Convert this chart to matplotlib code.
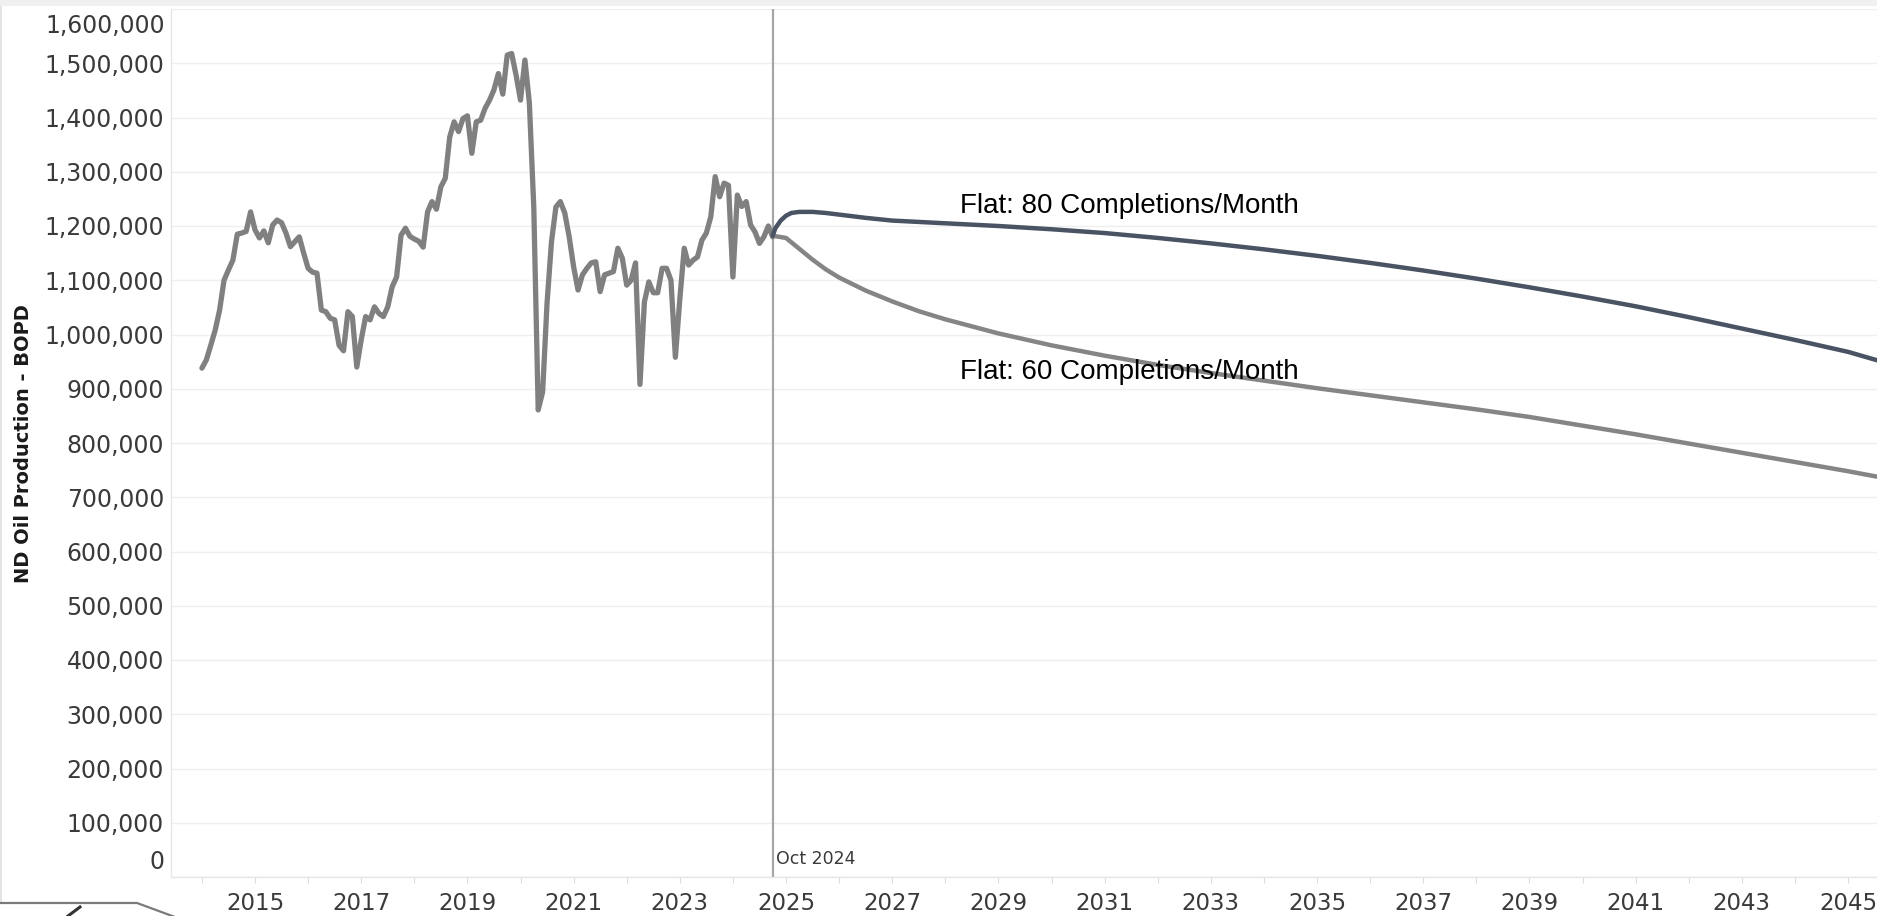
import matplotlib

matplotlib.use("Agg")
import matplotlib.pyplot as plt
from matplotlib.lines import Line2D
from matplotlib.patches import Rectangle

# monthly ND oil production (BOPD), Jan 2014 .. Oct 2024
hist_start_year = 2014
hist_bopd = [
    # 2014
    938_000, 953_000, 980_000, 1_008_000, 1_045_000, 1_100_000,
    1_119_000, 1_137_000, 1_185_000, 1_187_000, 1_190_000, 1_226_000,
    # 2015
    1_193_000, 1_178_000, 1_191_000, 1_169_000, 1_202_000, 1_211_000,
    1_206_000, 1_187_000, 1_162_000, 1_171_000, 1_180_000, 1_150_000,
    # 2016
    1_122_000, 1_115_000, 1_113_000, 1_045_000, 1_042_000, 1_030_000,
    1_027_000, 980_000, 970_000, 1_042_000, 1_033_000, 940_000,
    # 2017
    990_000, 1_033_000, 1_027_000, 1_051_000, 1_039_000, 1_033_000,
    1_051_000, 1_088_000, 1_106_000, 1_183_000, 1_196_000, 1_181_000,
    # 2018
    1_176_000, 1_172_000, 1_161_000, 1_226_000, 1_245_000, 1_231_000,
    1_272_000, 1_288_000, 1_364_000, 1_392_000, 1_374_000, 1_398_000,
    # 2019
    1_403_000, 1_334_000, 1_392_000, 1_395_000, 1_417_000, 1_432_000,
    1_451_000, 1_481_000, 1_443_000, 1_515_000, 1_518_000, 1_478_000,
    # 2020
    1_432_000, 1_506_000, 1_427_000, 1_235_000, 861_000, 894_000,
    1_058_000, 1_171_000, 1_235_000, 1_245_000, 1_224_000, 1_180_000,
    # 2021
    1_125_000, 1_082_000, 1_110_000, 1_122_000, 1_132_000, 1_134_000,
    1_079_000, 1_110_000, 1_113_000, 1_116_000, 1_159_000, 1_141_000,
    # 2022
    1_091_000, 1_100_000, 1_132_000, 908_000, 1_060_000, 1_097_000,
    1_077_000, 1_077_000, 1_122_000, 1_122_000, 1_100_000, 958_000,
    # 2023
    1_065_000, 1_159_000, 1_128_000, 1_137_000, 1_143_000, 1_174_000,
    1_187_000, 1_217_000, 1_291_000, 1_254_000, 1_279_000, 1_275_000,
    # 2024 (to Oct)
    1_106_000, 1_257_000, 1_236_000, 1_245_000, 1_202_000, 1_189_000,
    1_168_000, 1_180_000, 1_200_000, 1_180_000,
]

# forecasts (decimal year, BOPD)
fc80_year = [2024.75, 2024.8, 2024.9, 2025.0, 2025.1, 2025.25, 2025.5, 2025.75,
             2026.0, 2026.5, 2027.0, 2028.0, 2029.0, 2030.0, 2031.0, 2032.0,
             2033.0, 2034.0, 2035.0, 2036.0, 2037.0, 2038.0, 2039.0, 2040.0,
             2041.0, 2042.0, 2043.0, 2044.0, 2045.0, 2045.6]
fc80_bopd = [1_182_000, 1_196_000, 1_210_000, 1_219_000, 1_224_000, 1_226_000,
             1_226_000, 1_224_000, 1_221_000, 1_215_000, 1_210_000, 1_205_000,
             1_200_000, 1_194_000, 1_187_000, 1_178_000, 1_168_000, 1_157_000,
             1_145_000, 1_132_000, 1_118_000, 1_103_000, 1_087_000, 1_070_000,
             1_052_000, 1_032_000, 1_011_000, 990_000, 968_000, 951_000]

fc60_year = [2024.75, 2025.0, 2025.25, 2025.5, 2025.75, 2026.0, 2026.5, 2027.0,
             2027.5, 2028.0, 2029.0, 2030.0, 2031.0, 2032.0, 2033.0, 2034.0,
             2035.0, 2036.0, 2037.0, 2038.0, 2039.0, 2040.0, 2041.0, 2042.0,
             2043.0, 2044.0, 2045.0, 2045.6]
fc60_bopd = [1_182_000, 1_178_000, 1_158_000, 1_138_000, 1_120_000, 1_105_000,
             1_081_000, 1_061_000, 1_043_000, 1_028_000, 1_002_000, 980_000,
             961_000, 944_000, 929_000, 915_000, 901_000, 888_000, 875_000,
             862_000, 848_000, 832_000, 816_000, 799_000, 782_000, 765_000,
             748_000, 737_000]

y_ticks = list(range(0, 1_600_001, 100_000))
x_tick_years = list(range(2014, 2046))
ref_year = 2024.75  # Oct 2024

W, H = 1877, 916
FONT = "DejaVu Sans"
TICK_COLOR = "#3a3a3a"


def px(x, y):
    """pixel (from top-left) -> figure fraction"""
    return x / W, 1 - y / H


def main():
    fig = plt.figure(figsize=(W / 100, H / 100), dpi=100)
    fig.patch.set_facecolor("white")

    left, top, bottom = 171, 9, 877
    ax = fig.add_axes([left / W, 1 - bottom / H, (W - left) / W, (bottom - top) / H])
    ax.set_xlim(2013.418, 2045.546)
    ax.set_ylim(0, 1_600_000)

    hist_x = [hist_start_year + i / 12 for i in range(len(hist_bopd))]
    ax.plot(hist_x, hist_bopd, color="#808080", lw=3.8, solid_joinstyle="round",
            solid_capstyle="round", zorder=3)
    ax.plot(fc60_year, fc60_bopd, color="#858585", lw=3.2, solid_joinstyle="round",
            solid_capstyle="round", zorder=3)
    ax.plot(fc80_year, fc80_bopd, color="#4a5363", lw=3.2, solid_joinstyle="round",
            solid_capstyle="round", zorder=4)

    ax.axvline(ref_year, color="#a6a6a6", lw=1.6, zorder=2)
    ax.text(ref_year + 0.06, 33_000, "Oct 2024", fontsize=12.5, color=TICK_COLOR,
            family=FONT, va="center", ha="left")

    ax.text(2028.28, 1_236_000, "Flat: 80 Completions/Month", fontsize=20,
            family="Liberation Sans", color="black", va="center", ha="left")
    ax.text(2028.28, 930_000, "Flat: 60 Completions/Month", fontsize=20,
            family="Liberation Sans", color="black", va="center", ha="left")

    # y axis: gridlines at every 100k; end labels nudged inward like Tableau
    ax.set_yticks(y_ticks)
    ylabels = [f"{v:,}" for v in y_ticks]
    ylabels[0] = ""
    ylabels[-1] = ""
    ax.set_yticklabels(ylabels, fontsize=17, color=TICK_COLOR, family=FONT)
    ax.tick_params(axis="y", length=0, pad=5)
    ax.text(-0.0036, 1_590_000, "1,600,000", transform=ax.get_yaxis_transform(),
            fontsize=17, color=TICK_COLOR, family=FONT, ha="right", va="top")
    ax.text(-0.0036, 6_000, "0", transform=ax.get_yaxis_transform(),
            fontsize=17, color=TICK_COLOR, family=FONT, ha="right", va="bottom")
    ax.grid(axis="y", color="#efefef", lw=1.0, zorder=0)

    ax.set_xticks(x_tick_years)
    ax.set_xticklabels([str(y) if y % 2 else "" for y in x_tick_years],
                       fontsize=16.5, color=TICK_COLOR, family=FONT)
    ax.tick_params(axis="x", length=4, width=0.8, color="#dcdcdc", pad=7)

    for side in ("top", "right"):
        ax.spines[side].set_visible(False)
    ax.spines["left"].set_color("#e6e6e6")
    ax.spines["bottom"].set_color("#e6e6e6")
    ax.spines["left"].set_linewidth(1.0)
    ax.spines["bottom"].set_linewidth(1.0)

    fig.text(24 / W, 1 - 444 / H, "ND Oil Production - BOPD", rotation=90,
             fontsize=14, fontweight="bold", color="#1a1a1a", family=FONT,
             ha="center", va="center")

    # window chrome of the original screenshot
    fig.add_artist(Rectangle((0, 1 - 6 / H), 1, 6 / H, transform=fig.transFigure,
                             color="#f0f0f0", lw=0, zorder=0))
    fig.add_artist(Rectangle((0, 1 - 903 / H), 2 / W, 897 / H, transform=fig.transFigure,
                             color="#e4e4e4", lw=0, zorder=0))
    xs, ys = zip(px(0, 903), px(137, 903), px(175, 917))
    fig.add_artist(Line2D(xs, ys, transform=fig.transFigure, color="#7a7a7a", lw=1.6))
    xs, ys = zip(px(68, 916), px(80, 907))
    fig.add_artist(Line2D(xs, ys, transform=fig.transFigure, color="#333333", lw=2.2))

    fig.savefig("out.png", dpi=100)
    plt.close(fig)


if __name__ == "__main__":
    main()
